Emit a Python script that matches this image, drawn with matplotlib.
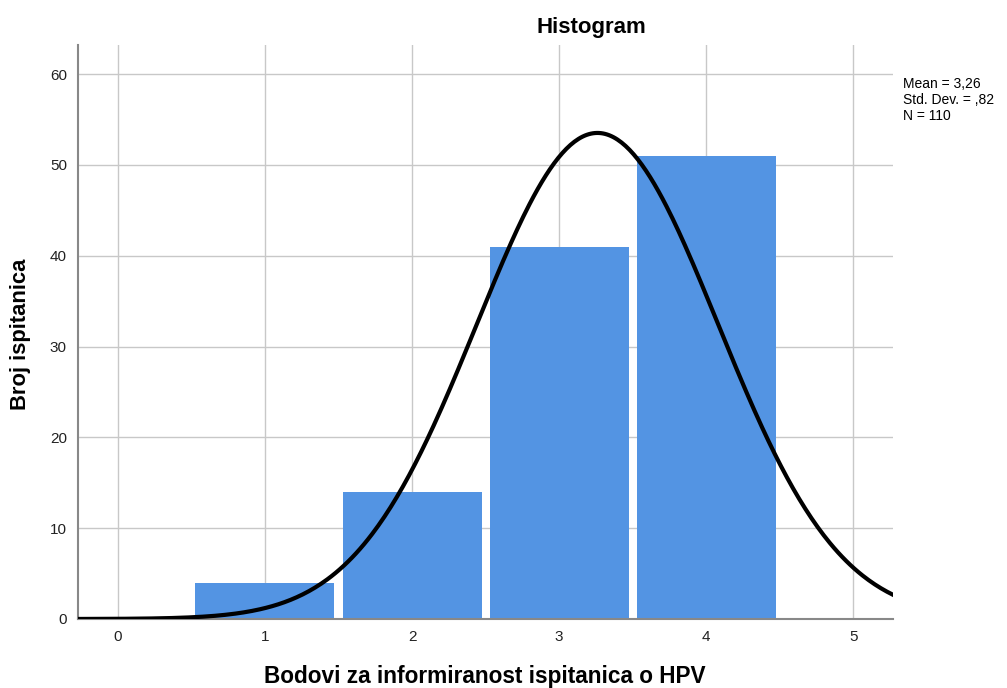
import numpy as np
import matplotlib.pyplot as plt

plt.rcParams['font.family'] = ['Liberation Sans', 'DejaVu Sans']

bins = [1, 2, 3, 4]
counts = [4, 14, 41, 51]
mean = 3.26
sd = 0.82
n = 110

fig = plt.figure(figsize=(10.07, 6.88), dpi=100)
ax = fig.add_axes([0.0775, 0.1003, 0.8095, 0.8343])

ax.bar(bins, counts, width=0.945, color='#5394e3', edgecolor='none', zorder=2)

# normal curve scaled to the histogram (bin width 1)
xs = np.linspace(-0.27, 5.27, 400)
ys = n / (sd * np.sqrt(2 * np.pi)) * np.exp(-0.5 * ((xs - mean) / sd) ** 2)
ax.plot(xs, ys, color='black', linewidth=3, zorder=3)

ax.set_xlim(-0.27, 5.27)
ax.set_ylim(0, 63.2)
ax.set_xticks(range(0, 6))
ax.set_yticks(range(0, 61, 10))
ax.grid(True, color='#c8c8c8', linewidth=1, zorder=0)
ax.set_axisbelow(True)
ax.tick_params(length=0, labelsize=11, colors='#222222', pad=8)
for s in ['top', 'right']:
    ax.spines[s].set_visible(False)
for s in ['left', 'bottom']:
    ax.spines[s].set_color('#888888')
    ax.spines[s].set_linewidth(1.5)

fig.text(591 / 1007, 1 - 27 / 688, 'Histogram', ha='center', va='center',
         fontsize=16, fontweight='bold')
fig.text(485 / 1007, 1 - 677 / 688, 'Bodovi za informiranost ispitanica o HPV',
         ha='center', va='center', fontsize=16.3, fontweight='bold')
fig.text(21 / 1007, 1 - 334 / 688, 'Broj ispitanica', ha='center', va='center',
         rotation=90, fontsize=15.8, fontweight='bold')
fig.text(903 / 1007, 1 - 100 / 688,
         'Mean = 3,26\nStd. Dev. = ,82\nN = 110',
         ha='left', va='center', fontsize=10, linespacing=1.15)

fig.savefig('out.png', dpi=100)
